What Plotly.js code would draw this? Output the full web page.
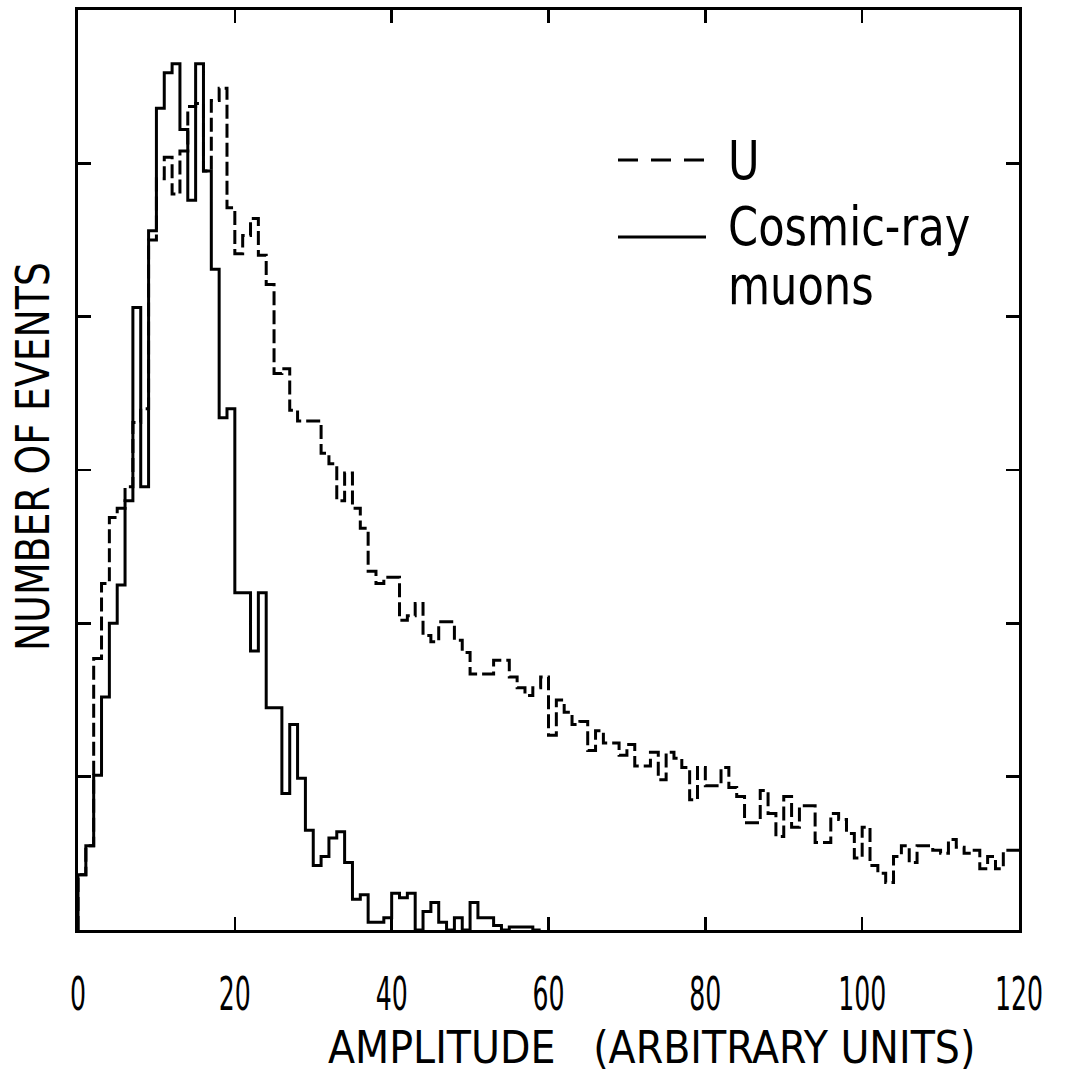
<!DOCTYPE html>
<html>
<head>
<meta charset="utf-8">
<script src="https://cdn.plot.ly/plotly-3.0.1.min.js"></script>
<style>
  html, body { margin: 0; padding: 0; background: #fff; }
  #chart { width: 1067px; height: 1073px; }
</style>
</head>
<body>
<div id="chart"></div>
<script>
// Amplitude spectra, one bin per arbitrary amplitude unit.
const binWidth = 1;
const amplitudeTicks = [0, 20, 40, 60, 80, 100, 120];
const amplitudeTickText = ['0', '20', '40', '60', '80', '100', '120'];
const eventTicks = [100, 200, 300, 400, 500];

// Uranium spectrum (dashed), bins 0..119
const uraniumCounts = [
  36, 55, 177, 226, 269, 275, 289, 331, 340, 450,
  490, 504, 480, 508, 537, 539, 495, 541, 549, 471,
  441, 453, 464, 440, 421, 363, 366, 339, 332, 332,
  332, 311, 304, 280, 298, 275, 262, 234, 226, 230,
  230, 202, 205, 213, 192, 188, 201, 201, 189, 181,
  167, 167, 167, 176, 176, 165, 158, 153, 158, 165,
  127, 150, 142, 134, 136, 117, 130, 122, 122, 114,
  121, 107, 107, 116, 98, 116, 112, 106, 85, 106,
  94, 94, 106, 93, 87, 70, 70, 91, 76, 61,
  87, 67, 81, 81, 57, 57, 76, 72, 63, 47,
  67, 42, 37, 31, 48, 55, 44, 55, 55, 52,
  50, 59, 54, 50, 52, 40, 48, 40, 52, 52
];

// Cosmic-ray muon spectrum (solid), bins 0..58
const muonCounts = [
  36, 55, 101, 152, 200, 225, 280, 406, 289, 456,
  536, 559, 565, 522, 476, 565, 495, 431, 334, 340,
  220, 220, 182, 220, 145, 145, 89, 134, 99, 65,
  42, 48, 60, 64, 44, 20, 23, 5, 5, 8,
  24, 21, 24, 0, 12, 18, 5, 0, 8, 0,
  18, 8, 8, 3, 0, 2, 2, 2, 0
];

const FONT = '"DejaVu Sans Condensed", "Liberation Sans Narrow", "DejaVu Sans", sans-serif';

// Step outline of a histogram: rises from zero at the first edge.
function stepOutline(counts, dropToZero) {
  const x = [0], y = [0];
  counts.forEach((c, i) => { x.push(i * binWidth); y.push(c); });
  x.push(counts.length * binWidth);
  y.push(dropToZero ? 0 : counts[counts.length - 1]);
  return { x, y };
}

const uStep = stepOutline(uraniumCounts, false);
const muStep = stepOutline(muonCounts, true);

const traces = [
  {
    x: uStep.x, y: uStep.y, type: 'scatter', mode: 'lines', name: 'U',
    line: { shape: 'hv', color: '#000', width: 3, dash: '14px,5px' },
    hoverinfo: 'skip'
  },
  {
    x: muStep.x, y: muStep.y, type: 'scatter', mode: 'lines', name: 'Cosmic-ray muons',
    line: { shape: 'hv', color: '#000', width: 3 },
    hoverinfo: 'skip'
  }
];

// Plot area: 78..1019 px horizontally, 10..930 px vertically
const L = 78, R = 1019, T = 10, B = 930;
const px = v => (v - L) / (R - L);
const py = v => (B - v) / (B - T);

const layout = {
  width: 1067, height: 1073,
  margin: { l: L, r: 1067 - R, t: T, b: 1073 - B, pad: 0 },
  paper_bgcolor: '#fff', plot_bgcolor: '#fff',
  showlegend: false,
  font: { family: FONT, color: '#000' },
  xaxis: {
    range: [0, 120], tickvals: amplitudeTicks, ticktext: amplitudeTickText,
    ticks: 'inside', ticklen: 13, tickwidth: 2.5, tickcolor: '#000',
    showline: true, linewidth: 3, linecolor: '#000', mirror: 'ticks',
    showgrid: false, zeroline: false,
    tickfont: { family: FONT, size: 28, color: '#000' },
    ticklabelstandoff: 37, fixedrange: true
  },
  yaxis: {
    range: [0, 600], tickvals: eventTicks,
    ticks: 'inside', ticklen: 13, tickwidth: 2.5, tickcolor: '#000',
    showticklabels: false,
    showline: true, linewidth: 3, linecolor: '#000', mirror: 'ticks',
    showgrid: false, zeroline: false, fixedrange: true
  },
  shapes: [
    { type: 'line', xref: 'paper', yref: 'paper', x0: px(618), x1: px(706), y0: py(160), y1: py(160),
      line: { color: '#000', width: 3, dash: '20px,13px' } },
    { type: 'line', xref: 'paper', yref: 'paper', x0: px(618), x1: px(706), y0: py(237), y1: py(237),
      line: { color: '#000', width: 3 } }
  ],
  annotations: [
    { text: 'AMPLITUDE\u00a0\u00a0\u00a0(ARBITRARY UNITS)', xref: 'paper', yref: 'paper',
      x: px(651), y: py(1047), xanchor: 'center', yanchor: 'middle', showarrow: false,
      font: { family: FONT, size: 44, color: '#000' } },
    { text: 'NUMBER OF EVENTS', xref: 'paper', yref: 'paper',
      x: px(32), y: py(457), xanchor: 'center', yanchor: 'middle', showarrow: false, textangle: -90,
      font: { family: FONT, size: 42, color: '#000' } },
    { text: 'U', xref: 'paper', yref: 'paper', x: px(726), y: py(160),
      xanchor: 'left', yanchor: 'middle', showarrow: false,
      font: { family: FONT, size: 48, color: '#000' } },
    { text: 'Cosmic-ray', xref: 'paper', yref: 'paper', x: px(726), y: py(226),
      xanchor: 'left', yanchor: 'middle', showarrow: false,
      font: { family: FONT, size: 48, color: '#000' } },
    { text: 'muons', xref: 'paper', yref: 'paper', x: px(726), y: py(285),
      xanchor: 'left', yanchor: 'middle', showarrow: false,
      font: { family: FONT, size: 48, color: '#000' } }
  ]
};

// The lettering is a tall, narrow plotter face: stretch glyphs vertically about their centre.
function stretchText(nodes, sy) {
  nodes.forEach(el => {
    const b = el.getBBox();
    const cx = b.x + b.width / 2, cy = b.y + b.height / 2;
    const t0 = el.getAttribute('transform') || '';
    el.setAttribute('transform',
      `${t0} translate(${cx},${cy}) scale(1,${sy}) translate(${-cx},${-cy})`);
  });
}

Plotly.newPlot('chart', traces, layout, { staticPlot: true, displayModeBar: false }).then(gd => {
  stretchText(Array.from(gd.querySelectorAll('.xtick text')), 1.65);
  const ann = Array.from(gd.querySelectorAll('.annotation'));
  const factors = [1.0, 1.12, 1.1, 1.1, 1.1];
  ann.forEach((g, i) => {
    const t = g.querySelector('text');
    if (t) stretchText([t], factors[i] || 1);
  });
});
</script>
</body>
</html>
